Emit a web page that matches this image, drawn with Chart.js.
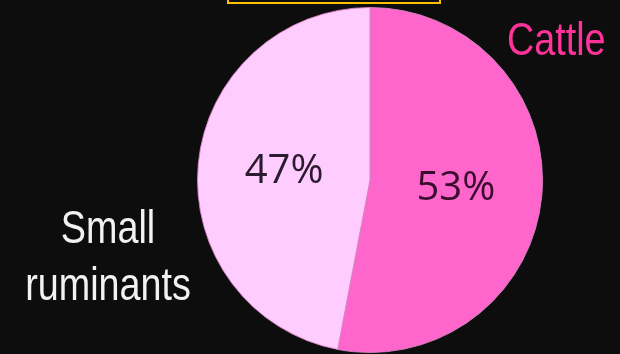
<!DOCTYPE html>
<html>
<head>
<meta charset="utf-8">
<script src="https://cdn.jsdelivr.net/npm/chart.js@4.4.1/dist/chart.umd.min.js"></script>
<style>
  html, body { margin: 0; padding: 0; background: #0d0d0d; }
  #wrap { position: relative; width: 620px; height: 354px; overflow: hidden; }
  #frame { position: absolute; left: 227px; top: -4px; width: 210px; height: 4px; border: 2px solid #ffc000; }
</style>
</head>
<body>
<div id="wrap">
  <canvas id="pieChart" width="620" height="354"></canvas>
  <div id="frame"></div>
</div>
<script>
// Data
const categories = ["Cattle", "Small ruminants"];
const shares = [53, 47];
const sliceColors = ["#ff66cc", "#ffccff"];
const labelColors = ["#3a0c2e", "#2c1a2e"];

const pieCanvas = document.getElementById("pieChart");

// percent inside each slice, halfway out along the middle angle
const percentLabels = {
    id: "percentLabels",
    afterDatasetsDraw(chart) {
        const ctx = chart.ctx;
        const arcs = chart.getDatasetMeta(0).data;
        ctx.save();
        ctx.font = "40px 'Open Sans', sans-serif";
        ctx.textAlign = "center";
        ctx.textBaseline = "middle";
        arcs.forEach(function(arc, i) {
            const p = arc.tooltipPosition();
            ctx.fillStyle = labelColors[i];
            ctx.fillText(shares[i] + "%", p.x, p.y);
        });
        ctx.restore();
    }
};

// narrow sans: regular Liberation Sans squeezed sideways
function narrowText(ctx, text, x, y, align) {
    ctx.save();
    ctx.translate(x, y);
    ctx.scale(0.82, 1);
    ctx.textAlign = align;
    ctx.fillText(text, 0, 0);
    ctx.restore();
}

// category names outside the pie
const categoryNames = {
    id: "categoryNames",
    afterDraw(chart) {
        const ctx = chart.ctx;
        ctx.save();
        ctx.font = "46px 'Liberation Sans', Arial, sans-serif";
        ctx.textBaseline = "alphabetic";
        ctx.fillStyle = "#ff3399";
        narrowText(ctx, categories[0], 507, 55, "left");
        ctx.fillStyle = "#f2f2f2";
        narrowText(ctx, "Small", 108, 243, "center");
        narrowText(ctx, "ruminants", 108, 300, "center");
        ctx.restore();
    }
};

let pieChart = new Chart(pieCanvas, {
    type: "pie",
    data: {
        labels: categories,
        datasets: [{
            data: shares,
            backgroundColor: sliceColors,
            borderColor: "rgba(215, 130, 195, 0.9)",
            borderWidth: 1
        }]
    },
    options: {
        responsive: false,
        animation: false,
        layout: { padding: { left: 197, right: 77, top: 7, bottom: 1 } },
        plugins: {
            legend: { display: false },
            tooltip: { enabled: false }
        }
    },
    plugins: [percentLabels, categoryNames]
});
</script>
</body>
</html>
